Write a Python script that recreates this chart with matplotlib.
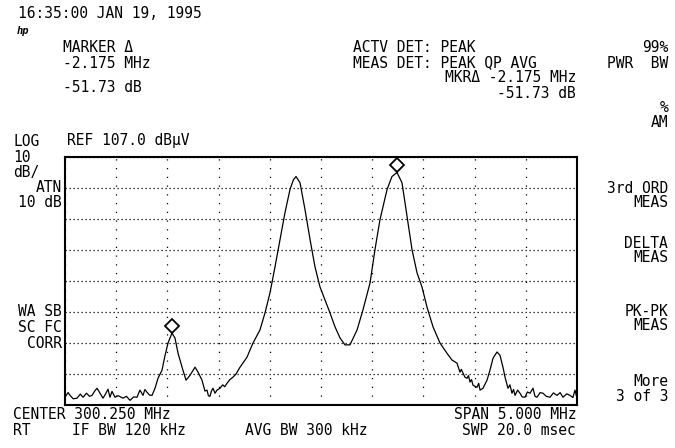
import matplotlib
matplotlib.use("Agg")
import matplotlib.pyplot as plt
import matplotlib.transforms as mtransforms
import numpy as np

# Trace (frequency in MHz, level in dBuV)
freq_mhz = [
    297.750, 297.780, 297.799, 297.830, 297.867, 297.900, 297.926, 297.960, 297.990, 298.014,
    298.040, 298.063, 298.092, 298.121, 298.145, 298.170, 298.189, 298.209, 298.238, 298.270,
    298.316, 298.350, 298.385, 298.420, 298.453, 298.482, 298.512, 298.530, 298.551, 298.575,
    298.600, 298.629, 298.658, 298.697, 298.727, 298.756, 298.795, 298.824, 298.854, 298.902,
    298.932, 298.971, 299.020, 299.049, 299.088, 299.117, 299.137, 299.150, 299.166, 299.180,
    299.195, 299.215, 299.234, 299.264, 299.290, 299.310, 299.332, 299.360, 299.391, 299.420,
    299.459, 299.527, 299.586, 299.654, 299.703, 299.752, 299.801, 299.850, 299.898, 299.947,
    299.980, 300.006, 300.045, 300.094, 300.143, 300.191, 300.240, 300.289, 300.338, 300.387,
    300.436, 300.484, 300.533, 300.602, 300.660, 300.729, 300.777, 300.826, 300.895, 300.943,
    300.992, 301.041, 301.090, 301.139, 301.188, 301.236, 301.285, 301.344, 301.412, 301.480,
    301.529, 301.578, 301.607, 301.620, 301.637, 301.655, 301.676, 301.690, 301.705, 301.720,
    301.734, 301.773, 301.790, 301.803, 301.832, 301.871, 301.900, 301.930, 301.969, 301.998,
    302.027, 302.047, 302.076, 302.095, 302.115, 302.130, 302.145, 302.170, 302.193, 302.215,
    302.242, 302.265, 302.291, 302.320, 302.340, 302.359, 302.390, 302.418, 302.450, 302.486,
    302.520, 302.555, 302.585, 302.613, 302.650, 302.682, 302.710, 302.730, 302.750,
]
level_dbuv = [
    29.5, 31.0, 30.1, 29.0, 29.2, 30.5, 29.5, 30.8, 29.8, 30.1,
    31.5, 32.4, 30.8, 29.2, 30.5, 32.1, 29.5, 31.4, 29.5, 30.0,
    29.2, 29.8, 28.5, 29.6, 29.5, 31.8, 30.1, 32.0, 31.1, 30.2,
    30.1, 32.4, 35.6, 38.2, 43.0, 47.0, 50.2, 48.6, 43.7, 38.2,
    35.0, 36.6, 39.2, 37.6, 35.0, 31.5, 31.8, 30.0, 29.8, 31.5,
    32.4, 30.8, 31.8, 32.4, 33.5, 32.9, 34.0, 35.2, 36.0, 37.0,
    39.2, 42.4, 47.0, 51.2, 56.7, 63.2, 71.6, 80.4, 89.0, 96.5,
    99.6, 100.7, 98.7, 90.0, 80.4, 71.6, 65.1, 60.9, 56.7, 52.2,
    48.6, 46.4, 46.4, 51.2, 57.7, 66.4, 77.1, 86.8, 96.5, 100.7,
    102.0, 98.7, 87.8, 77.1, 69.6, 65.1, 58.6, 52.2, 47.0, 43.7,
    41.5, 40.5, 37.6, 38.5, 37.3, 36.0, 35.6, 36.5, 34.4, 35.2,
    33.4, 32.7, 34.0, 31.8, 32.4, 35.0, 38.2, 42.1, 44.1, 43.0,
    39.2, 36.0, 32.4, 33.5, 30.8, 32.0, 30.1, 31.8, 30.8, 29.6,
    29.5, 31.2, 30.8, 32.4, 29.8, 29.5, 31.0, 30.8, 29.8, 29.5,
    30.9, 30.1, 31.0, 29.5, 30.6, 30.1, 29.4, 31.8, 29.2,
]

center_mhz = 300.250
span_mhz = 5.0
ref_level = 107.0
db_per_div = 10
n_xdiv, n_ydiv = 10, 8

W, H = 675, 448
fig = plt.figure(figsize=(W / 100, H / 100), dpi=100)
fig.patch.set_facecolor("white")

# axes box in screen pixels: x 65..577, y 157..405
ax = fig.add_axes([65 / W, 1 - 405 / H, 512 / W, 248 / H])
x0 = center_mhz - span_mhz / 2
x1 = center_mhz + span_mhz / 2
y0 = ref_level - n_ydiv * db_per_div
ax.set_xlim(x0, x1)
ax.set_ylim(y0, ref_level)
ax.set_xticks(np.linspace(x0, x1, n_xdiv + 1))
ax.set_yticks(np.linspace(y0, ref_level, n_ydiv + 1))
ax.tick_params(length=0, labelbottom=False, labelleft=False)
ax.xaxis.grid(True, color="black", linestyle=(0, (1, 6)), linewidth=0.9)
ax.yaxis.grid(True, color="black", linestyle=(0, (1, 2.2)), linewidth=0.9)
for s in ax.spines.values():
    s.set_linewidth(1.5)

freq = np.array(freq_mhz)
lvl = np.array(level_dbuv)
ax.plot(freq, lvl, color="black", linewidth=0.9)

# markers: reference at the highest peak, delta marker at the left spur
i_ref = int(np.argmax(lvl))
left = freq < 299.0
i_dlt = int(np.argmax(np.where(left, lvl, -np.inf)))
up = mtransforms.offset_copy(ax.transData, fig=fig, x=0, y=7, units="dots")
for i in (i_ref, i_dlt):
    ax.plot(freq[i], lvl[i], marker="D", markersize=7.5, markerfacecolor="white",
            markeredgecolor="black", markeredgewidth=1.3, transform=up, clip_on=False)

FONT = "DejaVu Sans Mono"
FS = 10.5


def label(x, y, s, ha="left", size=FS, **kw):
    fig.text(x / W, 1 - y / H, s, ha=ha, va="center", family=FONT, fontsize=size, **kw)


label(18, 13, "16:35:00 JAN 19, 1995")
label(17, 31, "hp", size=7.5, fontstyle="italic", fontweight="bold")

label(63, 48, "MARKER Δ")
label(63, 64, "-2.175 MHz")
label(63, 87, "-51.73 dB")

label(353, 48, "ACTV DET: PEAK")
label(353, 63, "MEAS DET: PEAK QP AVG")
label(576, 78, "MKRΔ -2.175 MHz", ha="right")
label(576, 93, "-51.73 dB", ha="right")

label(13, 141, "LOG")
label(67, 141, "REF 107.0 dBµV")
label(13, 157, "10")
label(13, 172, "dB/")
label(62, 187, "ATN", ha="right")
label(62, 202, "10 dB", ha="right")
label(62, 312, "WA SB", ha="right")
label(62, 328, "SC FC", ha="right")
label(62, 343, "CORR", ha="right")

label(13, 414, "CENTER 300.250 MHz")
label(576, 414, "SPAN 5.000 MHz", ha="right")
label(13, 430, "RT")
label(72, 430, "IF BW 120 kHz")
label(245, 430, "AVG BW 300 kHz")
label(576, 430, "SWP 20.0 msec", ha="right")

# softkey labels on the right
softkeys = [
    (48, "99%"), (63, "PWR  BW"),
    (108, "%"), (122, "AM"),
    (188, "3rd ORD"), (202, "MEAS"),
    (244, "DELTA"), (258, "MEAS"),
    (311, "PK-PK"), (325, "MEAS"),
    (381, "More"), (396, "3 of 3"),
]
for y, s in softkeys:
    label(668, y, s, ha="right")

fig.savefig("out.png", dpi=100, facecolor="white")
